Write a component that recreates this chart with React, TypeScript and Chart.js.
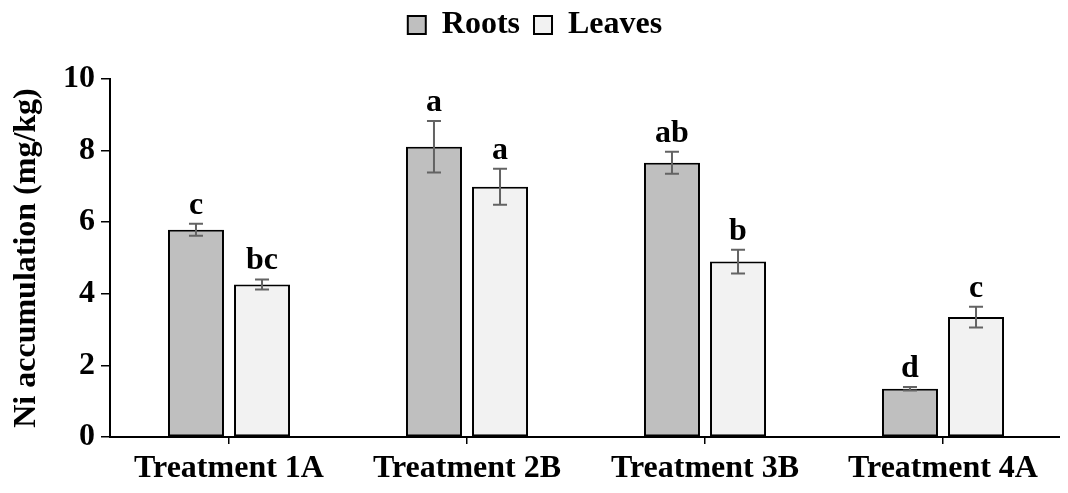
import React, { useEffect, useRef } from "react";
import { Chart, registerables } from "chart.js";

Chart.register(...registerables);

const categories = ["Treatment 1A", "Treatment 2B", "Treatment 3B", "Treatment 4A"];
const rootsValues = [5.79, 8.11, 7.66, 1.35];
const leavesValues = [4.26, 6.99, 4.9, 3.35];
const rootsErrors = [0.17, 0.72, 0.31, 0.05];
const leavesErrors = [0.14, 0.5, 0.33, 0.29];
const rootsLetters = ["c", "a", "ab", "d"];
const leavesLetters = ["bc", "a", "b", "c"];
const yTicks = [0, 2, 4, 6, 8, 10];

const FONT = "'Liberation Serif', 'Times New Roman', serif";
const FS = 32;

const errorPlugin = {
  id: "errorBarsLetters",
  afterDatasetsDraw(chart: any) {
    const ctx = chart.ctx;
    const yScale = chart.scales.y;
    const vals = [rootsValues, leavesValues];
    const errs = [rootsErrors, leavesErrors];
    const letters = [rootsLetters, leavesLetters];
    ctx.save();
    vals.forEach((series, i) => {
      const meta = chart.getDatasetMeta(i);
      meta.data.forEach((bar: any, j: number) => {
        const v = series[j];
        const e = errs[i][j];
        const top = yScale.getPixelForValue(v + e);
        const bot = yScale.getPixelForValue(v - e);
        const x = bar.x;
        ctx.strokeStyle = "#636363";
        ctx.lineWidth = 2;
        ctx.beginPath();
        ctx.moveTo(x, top);
        ctx.lineTo(x, bot);
        ctx.moveTo(x - 7, top);
        ctx.lineTo(x + 7, top);
        ctx.moveTo(x - 7, bot);
        ctx.lineTo(x + 7, bot);
        ctx.stroke();
        ctx.fillStyle = "#000";
        ctx.font = `bold ${FS}px ${FONT}`;
        ctx.textAlign = "center";
        ctx.textBaseline = "alphabetic";
        ctx.fillText(letters[i][j], x, top - 10);
      });
    });
    ctx.restore();
  },
};

const legendSpace = {
  id: "legendSpace",
  beforeInit(chart: any) {
    const legend = chart.legend;
    if (!legend) return;
    const origFit = legend.fit;
    legend.fit = function () {
      origFit.call(this);
      this.height += 28;
    };
  },
};

export default function App() {
  const ref = useRef<HTMLCanvasElement | null>(null);
  useEffect(() => {
    if (!ref.current) return;
    const chart = new Chart(ref.current, {
      type: "bar",
      data: {
        labels: categories,
        datasets: [
          {
            label: "Roots",
            data: rootsValues,
            backgroundColor: "#bfbfbf",
            borderColor: "#000",
            borderWidth: 2,
            borderSkipped: false,
            categoryPercentage: 0.555,
            barPercentage: 0.848,
          },
          {
            label: "Leaves",
            data: leavesValues,
            backgroundColor: "#f2f2f2",
            borderColor: "#000",
            borderWidth: 2,
            borderSkipped: false,
            categoryPercentage: 0.555,
            barPercentage: 0.848,
          },
        ],
      },
      options: {
        animation: false,
        responsive: false,
        maintainAspectRatio: false,
        layout: { padding: { top: -13, right: 6, bottom: 0, left: 0 } },
        plugins: {
          legend: {
            position: "top",
            labels: {
              font: { family: FONT, size: FS, weight: "bold" },
              color: "#000",
              boxWidth: 18,
              boxHeight: 18,
              padding: 14,
            },
          },
          tooltip: { enabled: false },
        },
        scales: {
          x: {
            grid: {
              display: true,
              drawOnChartArea: false,
              drawTicks: true,
              tickLength: 7,
              offset: false,
              color: "#000",
              lineWidth: 1.5,
            },
            border: { display: true, color: "#000", width: 2 },
            ticks: {
              font: { family: FONT, size: FS, weight: "bold" },
              color: "#000",
              padding: 6,
              maxRotation: 0,
              autoSkip: false,
            },
            afterFit(scale: any) {
              scale.height = 48;
            },
          },
          y: {
            min: 0,
            max: 10,
            afterBuildTicks(scale: any) {
              scale.ticks = yTicks.map((v) => ({ value: v }));
            },
            grid: {
              display: true,
              drawOnChartArea: false,
              drawTicks: true,
              tickLength: 9,
              color: "#000",
              lineWidth: 1.5,
            },
            border: { display: true, color: "#000", width: 2 },
            ticks: {
              font: { family: FONT, size: FS, weight: "bold" },
              color: "#000",
              padding: 6,
            },
            title: {
              display: true,
              text: "Ni accumulation (mg/kg)",
              font: { family: FONT, size: FS, weight: "bold" },
              color: "#000",
              padding: { top: 0, bottom: 0 },
            },
            afterFit(scale: any) {
              scale.width = 102;
            },
          },
        },
      },
      plugins: [legendSpace, errorPlugin],
    });
    return () => chart.destroy();
  }, []);
  return (
    <div style={{ width: 1060, height: 477 }}>
      <canvas ref={ref} width={1060} height={477} style={{ display: "block" }} />
    </div>
  );
}
